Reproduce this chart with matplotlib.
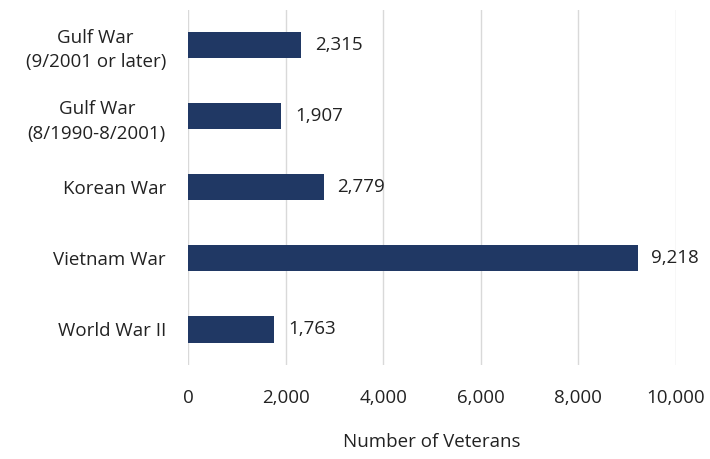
import matplotlib.pyplot as plt

categories = ['World War II', 'Vietnam War', 'Korean War',
              'Gulf War\n(8/1990-8/2001)', 'Gulf War\n(9/2001 or later)']
veterans = [1763, 9218, 2779, 1907, 2315]
xticks = [0, 2000, 4000, 6000, 8000, 10000]

plt.rcParams['font.family'] = ['Open Sans', 'DejaVu Sans']
fs = 13.5

fig = plt.figure(figsize=(7.1, 4.59), dpi=100)
ax = fig.add_axes([0.265, 0.205, 0.687, 0.774])

ypos = range(len(categories))
ax.barh(ypos, veterans, height=0.37, color='#203864', zorder=3)
for y, v in zip(ypos, veterans):
    ax.text(v + 280, y, f'{v:,}', va='center', ha='left', fontsize=fs, color='#222222')

ax.set_xlim(0, 10000)
ax.set_ylim(-0.5, len(categories) - 0.5)
ax.set_xticks(xticks)
ax.set_xticklabels([f'{t:,}' for t in xticks], fontsize=fs, color='#222222')
ax.set_yticks(list(ypos))
ax.set_yticklabels(categories, fontsize=fs, color='#222222', linespacing=1.45,
                   multialignment='center')
ax.tick_params(length=0)
ax.tick_params(axis='x', pad=17)
ax.tick_params(axis='y', pad=16)
ax.grid(axis='x', color='#d9d9d9', linewidth=1, zorder=0)
for s in ax.spines.values():
    s.set_visible(False)
ax.set_xlabel('Number of Veterans', fontsize=fs, color='#222222', labelpad=19)

fig.savefig('out.png', dpi=100)
